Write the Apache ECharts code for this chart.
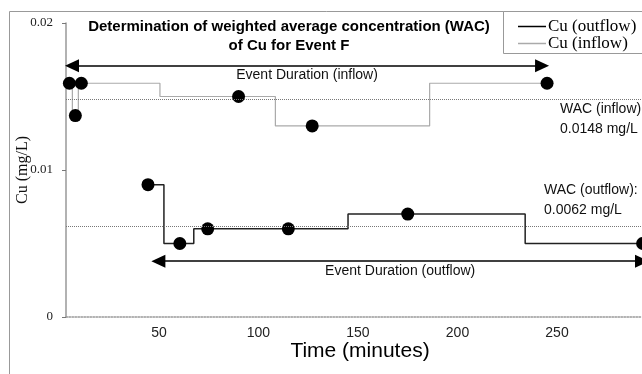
<!DOCTYPE html>
<html>
<head>
<meta charset="utf-8">
<script src="https://cdn.jsdelivr.net/npm/echarts@6/dist/echarts.min.js"></script>
<style>
  html, body { margin: 0; padding: 0; background: #fff; }
  #chart { width: 642px; height: 374px; }
</style>
</head>
<body>
<div id="chart"></div>
<script>
// values (time in minutes, Cu in mg/L)
const inflowTimes = [5, 8, 11, 90, 127, 245];
const inflowValues = [0.0159, 0.0137, 0.0159, 0.0150, 0.0130, 0.0159];
const outflowTimes = [44.5, 60.5, 74.5, 115, 175, 293];
const outflowValues = [0.009, 0.005, 0.006, 0.006, 0.007, 0.005];
const wacValues = [0.0148, 0.0062]; // inflow, outflow
const xTickLabels = [50, 100, 150, 200, 250];
const inflowDuration = [6.3, 242.5];
const outflowDuration = [49.7, 292.7];

const SERIF = "Liberation Serif";
const SANS = "Liberation Sans";

const pairs = (xs, ys) => xs.map((x, i) => [x, ys[i]]);

const chart = echarts.init(document.getElementById("chart"), null, { renderer: "canvas" });

const dotted = (v) => ({
  yAxis: v,
  lineStyle: { type: "dotted", color: "#777", width: 1 },
  label: { show: false },
});

const arrow = (range, y, text) => [
  {
    coord: [range[0], y],
    lineStyle: { color: "#000", width: 1.5, type: "solid" },
    label: {
      show: true,
      formatter: text,
      position: "insideMiddleBottom",
      distance: 3,
      color: "#111",
      fontFamily: SANS,
      fontSize: 14,
    },
  },
  { coord: [range[1], y] },
];

chart.setOption({
  animation: false,
  title: {
    text: "Determination of weighted average concentration (WAC)\nof Cu for Event F",
    left: 284,
    top: 12,
    textAlign: "center",
    textStyle: {
      fontFamily: SANS,
      fontWeight: "bold",
      fontSize: 15,
      lineHeight: 19,
      color: "#000",
    },
  },
  legend: {
    orient: "vertical",
    left: 513,
    top: 13,
    itemGap: 0,
    itemWidth: 28,
    itemHeight: 1.5,
    icon: "rect",
    textStyle: { fontFamily: SERIF, fontSize: 17, lineHeight: 16, color: "#000", padding: [0, 0, 0, -3] },
    data: [
      { name: "Cu (outflow)", itemStyle: { color: "#000" } },
      { name: "Cu (inflow)", itemStyle: { color: "#aaa" } },
    ],
  },
  grid: { left: 66, right: 0, top: 23, bottom: 57 },
  xAxis: {
    type: "value",
    min: 3.3,
    max: 292.7,
    name: "Time (minutes)",
    nameLocation: "middle",
    nameGap: 24,
    nameMoveOverlap: false,
    nameTextStyle: { fontFamily: SANS, fontSize: 21, color: "#000", padding: [0, 0, 0, 12] },
    axisLine: { show: true, lineStyle: { color: "#999", type: "dotted", width: 1.5 } },
    axisTick: { show: false },
    splitLine: { show: false },
    axisLabel: {
      customValues: xTickLabels,
      fontFamily: SANS,
      fontSize: 14,
      color: "#222",
      margin: 9,
    },
  },
  yAxis: {
    type: "value",
    min: 0,
    max: 0.02,
    interval: 0.01,
    name: "Cu (mg/L)",
    nameLocation: "middle",
    nameGap: 35,
    nameMoveOverlap: false,
    nameTextStyle: { fontFamily: SERIF, fontSize: 16, color: "#111" },
    axisLine: { show: true, lineStyle: { color: "#999", width: 1.5 } },
    axisTick: { show: true, length: 4, lineStyle: { color: "#777" } },
    splitLine: { show: false },
    axisLabel: { fontFamily: SERIF, fontSize: 13, color: "#222", margin: 13 },
  },
  series: [
    {
      name: "Cu (inflow)",
      type: "line",
      step: "middle",
      clip: false,
      data: pairs(inflowTimes, inflowValues),
      symbol: "circle",
      symbolSize: 13,
      itemStyle: { color: "#000" },
      lineStyle: { color: "#aaa", width: 1.2 },
      z: 3,
      markLine: {
        silent: true,
        precision: 6,
        symbol: ["none", "none"],
        data: [dotted(wacValues[0]), dotted(wacValues[1])],
      },
    },
    {
      name: "Cu (outflow)",
      type: "line",
      step: "middle",
      clip: false,
      data: pairs(outflowTimes, outflowValues),
      symbol: "circle",
      symbolSize: 13,
      itemStyle: { color: "#000" },
      lineStyle: { color: "#222", width: 1.5 },
      z: 4,
      markLine: {
        silent: true,
        precision: 6,
        symbol: ["triangle", "triangle"],
        symbolSize: [13, 14],
        data: [
          arrow(inflowDuration, 0.0171, "Event Duration (inflow)"),
          arrow(outflowDuration, 0.0038, "Event Duration (outflow)"),
        ],
      },
    },
  ],
});

// WAC notes anchored in data coordinates
const notes = [
  { at: [251.5, wacValues[0]], text: "WAC (inflow):\n" + wacValues[0] + " mg/L" },
  { at: [243.5, 0.0093], text: "WAC (outflow):\n" + wacValues[1] + " mg/L" },
];

chart.setOption({
  graphic: [
    {
      type: "rect",
      shape: { x: 9.5, y: 11.5, width: 700, height: 400 },
      style: { fill: null, stroke: "#999", lineWidth: 1 },
      silent: true,
      z: -10,
    },
    {
      type: "rect",
      shape: { x: 503.5, y: 11.5, width: 200, height: 42 },
      style: { fill: "#fff", stroke: "#999", lineWidth: 1 },
      silent: true,
      z: 0,
    },
  ].concat(
    notes.map((n) => {
      const p = chart.convertToPixel({ gridIndex: 0 }, n.at);
      return {
        type: "text",
        x: p[0],
        y: p[1],
        silent: true,
        z: 10,
        style: {
          text: n.text,
          fontFamily: SANS,
          fontSize: 14,
          lineHeight: 20,
          fill: "#111",
          verticalAlign: "top",
        },
      };
    })
  ),
});
</script>
</body>
</html>
